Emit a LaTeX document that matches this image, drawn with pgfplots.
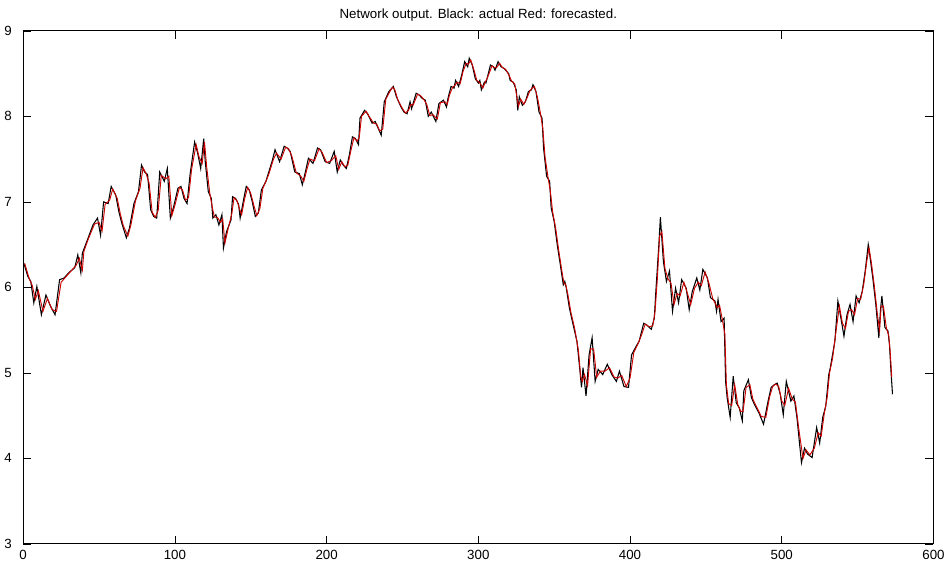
\documentclass[border={0pt 1pt 0pt 3pt}]{standalone}
\usepackage{pgfplots}
\pgfplotsset{compat=1.18}
\usepackage{pgfplotstable}
\usepackage{fontspec}
\setmainfont{Liberation Sans}
\pgfplotstableread{
x y
0 6.30
1 6.25
3 6.13
5 6.07
7 5.82
9 6.01
12 5.68
15 5.91
18 5.78
21 5.68
24 6.09
27 6.11
30 6.17
34 6.23
36 6.38
38 6.17
39 6.40
42 6.54
46 6.73
49 6.81
51 6.61
53 7.00
56 6.98
58 7.18
61 7.08
63 6.89
65 6.75
68 6.58
70 6.69
73 6.98
76 7.12
78 7.43
80 7.35
82 7.32
84 6.91
86 6.83
88 6.81
90 7.35
93 7.24
95 7.39
97 6.81
99 6.93
102 7.16
104 7.18
106 7.04
108 6.98
110 7.32
113 7.70
115 7.57
117 7.39
119 7.74
120 7.47
122 7.12
124 7.04
125 6.81
127 6.85
129 6.73
131 6.85
132 6.46
134 6.65
137 6.79
138 7.06
140 7.04
142 6.97
143 6.81
145 7.00
147 7.18
149 7.14
151 7.00
153 6.83
155 6.87
157 7.14
160 7.24
161 7.30
164 7.47
166 7.61
169 7.47
172 7.65
174 7.63
176 7.59
179 7.35
182 7.33
184 7.20
186 7.35
188 7.51
191 7.45
194 7.63
196 7.61
199 7.47
202 7.45
205 7.59
207 7.35
209 7.49
211 7.43
213 7.39
215 7.55
217 7.76
219 7.74
221 7.67
222 7.98
225 8.07
227 8.03
230 7.92
232 7.94
234 7.86
236 7.78
238 8.17
241 8.29
243 8.33
244 8.35
246 8.23
249 8.11
251 8.05
253 8.03
255 8.17
256 8.09
259 8.27
261 8.25
263 8.21
265 8.19
267 8.00
269 8.05
272 7.94
274 8.15
277 8.19
279 8.11
280 8.21
282 8.35
284 8.33
285 8.42
287 8.35
289 8.48
291 8.64
293 8.58
294 8.68
296 8.60
298 8.44
300 8.39
301 8.42
302 8.31
304 8.40
305 8.39
308 8.60
310 8.58
311 8.54
313 8.64
315 8.58
317 8.56
320 8.50
321 8.42
323 8.40
325 8.31
326 8.07
327 8.23
329 8.13
331 8.17
333 8.29
335 8.31
336 8.37
338 8.29
340 8.05
342 7.98
343 7.63
345 7.30
347 7.24
348 6.93
350 6.77
352 6.50
354 6.27
356 6.03
357 6.07
358 5.99
360 5.76
362 5.60
365 5.37
367 5.02
368 4.83
369 5.06
371 4.73
373 5.21
375 5.41
377 4.90
379 5.04
382 4.98
385 5.10
388 4.98
391 4.90
393 5.02
396 4.84
399 4.83
401 5.21
404 5.31
406 5.37
409 5.58
411 5.56
414 5.51
416 5.64
417 5.95
419 6.50
420 6.82
422 6.30
424 6.07
426 6.19
428 5.72
430 5.99
432 5.82
434 6.09
437 5.99
439 5.74
441 5.95
444 6.11
446 5.97
448 6.21
451 6.11
453 5.88
456 5.84
457 5.72
458 5.86
460 5.60
462 5.64
463 4.90
464 4.71
466 4.48
468 4.96
470 4.65
472 4.59
474 4.44
475 4.79
478 4.92
480 4.71
482 4.63
485 4.53
488 4.40
491 4.67
493 4.83
495 4.86
497 4.88
499 4.75
501 4.51
503 4.90
506 4.67
508 4.73
510 4.48
513 3.95
515 4.12
517 4.05
520 4.01
523 4.36
525 4.18
527 4.48
529 4.61
531 4.98
532 5.06
535 5.37
537 5.84
539 5.64
541 5.43
543 5.68
545 5.80
547 5.60
549 5.90
551 5.82
553 5.95
555 6.19
557 6.50
558 6.38
560 6.11
562 5.80
564 5.41
565 5.72
566 5.90
568 5.53
570 5.49
571 5.33
572 5.02
573 4.75
}\actual
\pgfplotstableread{
x y
1 6.28
2 6.22
4 6.10
6 6.02
8 5.86
10 5.96
13 5.72
16 5.87
19 5.74
22 5.72
25 6.06
28 6.12
31 6.18
35 6.26
37 6.34
39 6.20
40 6.42
43 6.57
47 6.74
50 6.76
52 6.66
54 6.97
57 7.02
59 7.15
62 7.04
64 6.86
66 6.72
69 6.60
71 6.73
74 7.01
77 7.16
79 7.40
81 7.33
83 7.22
85 6.88
87 6.82
89 6.90
91 7.31
94 7.27
96 7.30
98 6.84
100 6.96
103 7.17
105 7.14
107 7.02
109 7.05
111 7.38
114 7.67
116 7.52
118 7.45
119.5 7.70
121 7.40
123 7.10
124.5 6.95
126 6.82
128 6.82
130 6.76
131.5 6.80
133 6.52
135 6.68
137.5 6.86
139 7.05
141 7.01
142.5 6.92
144 6.85
146 7.04
148 7.17
150 7.10
152 6.96
154 6.84
156 6.92
158 7.16
160.5 7.26
162 7.33
165 7.50
167 7.57
170 7.50
173 7.64
175 7.62
177 7.54
180 7.34
183 7.30
185 7.24
187 7.38
189 7.50
192 7.48
195 7.62
197 7.58
200 7.46
203 7.48
206 7.54
208 7.38
210 7.47
212 7.41
214 7.43
216 7.60
218 7.75
220 7.71
221.5 7.75
223 8.00
226 8.06
228 8.00
231 7.92
233 7.91
235 7.83
237 7.85
239 8.20
242 8.30
243.5 8.34
245 8.31
247 8.19
250 8.09
252 8.04
254 8.07
255.5 8.14
257 8.13
260 8.26
262 8.24
264 8.20
266 8.14
268 8.01
270 8.02
273 7.97
275 8.16
278 8.17
279.5 8.14
281 8.25
283 8.34
284.5 8.36
286 8.40
288 8.38
290 8.53
292 8.62
293.5 8.61
295 8.66
297 8.55
299 8.42
300.5 8.40
301.5 8.38
303 8.33
304.5 8.40
306 8.45
309 8.59
310.5 8.57
312 8.57
314 8.62
316 8.57
318 8.55
320.5 8.47
322 8.41
324 8.38
325.5 8.22
326.5 8.12
328 8.20
330 8.14
332 8.21
334 8.30
335.5 8.33
337 8.35
339 8.22
341 8.03
342.5 7.86
344 7.52
346 7.28
347.5 7.12
349 6.88
351 6.69
353 6.43
355 6.20
356.5 6.04
357.5 6.04
359 5.92
361 5.71
363.5 5.52
366 5.26
367.5 4.95
368.5 4.90
370 4.98
372 4.85
374 5.28
376 5.28
378 4.95
380.5 5.02
383.5 5.02
386.5 5.06
389.5 4.95
392 4.94
394.5 4.97
397.5 4.84
400 4.94
402.5 5.24
405 5.33
407.5 5.44
410 5.57
412.5 5.54
415 5.55
416.5 5.72
418 6.10
419.5 6.60
421 6.65
423 6.22
425 6.10
427 6.05
429 5.80
431 5.93
433 5.90
435.5 6.06
438 5.92
440 5.80
442.5 5.99
445 6.06
447 6.02
449.5 6.18
452 6.05
454.5 5.87
456.5 5.80
457.5 5.76
459 5.79
461 5.61
462.5 5.45
463.5 4.86
465 4.64
467 4.62
469 4.86
471 4.63
473 4.55
474.5 4.55
476.5 4.83
479 4.86
481 4.69
483.5 4.60
486.5 4.49
489.5 4.48
492 4.72
494 4.84
496 4.87
498 4.84
500 4.67
502 4.62
504.5 4.82
507 4.69
509 4.66
511.5 4.31
514 4.00
516 4.10
518.5 4.04
521.5 4.12
524 4.30
526 4.26
528 4.52
530 4.72
531.5 5.00
533.5 5.17
536 5.52
538 5.78
540 5.58
542 5.52
544 5.72
546 5.74
548 5.68
550 5.87
552 5.86
554 6.03
556 6.30
557.5 6.46
559 6.30
561 6.02
563 5.69
564.5 5.50
565.5 5.78
567 5.78
569 5.52
570.5 5.44
571.5 5.24
572.5 4.95
}\forecast
\begin{document}
\begin{tikzpicture}
\begin{axis}[
  scale only axis,
  width=684pt, height=385.5pt,
  xmin=0, xmax=600, ymin=3, ymax=9,
  xtick={0,100,...,600}, ytick={3,4,...,9},
  tick align=inside,
  major tick length=6pt,
  tick style={black, line width=0.5pt},
  axis line style={black, line width=0.6pt},
  every tick label/.append style={font=\fontsize{10}{12}\selectfont},
  /pgf/number format/assume math mode=true,
  xticklabel style={yshift=-1pt},
  yticklabel style={xshift=-5pt},
  title={Network output. Black: actual Red: forecasted.},
  title style={font=\fontsize{10}{12}\selectfont, yshift=-2pt},
  clip=true,
]
\addplot[black, line width=0.8pt] table[x=x, y=y] {\actual};
\addplot[red!80!black, line width=0.7pt] table[x=x, y=y] {\forecast};
\end{axis}
\end{tikzpicture}
\end{document}
